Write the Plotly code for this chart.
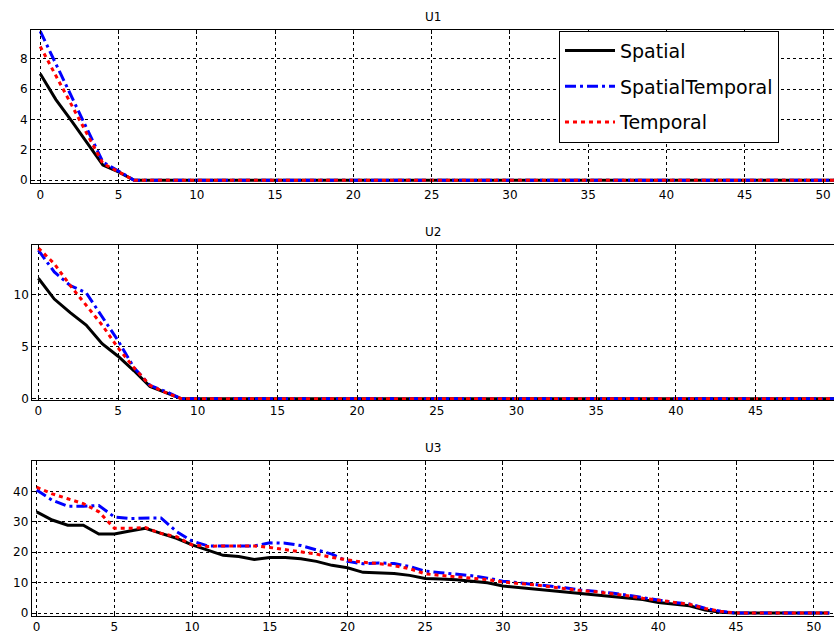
import plotly.graph_objects as go

steps = list(range(52))

u1_spatial = [7.0, 5.3, 3.9, 2.45, 1.0, 0.55, 0, 0, 0, 0, 0, 0, 0, 0, 0, 0, 0, 0, 0, 0, 0, 0, 0, 0, 0, 0,
              0, 0, 0, 0, 0, 0, 0, 0, 0, 0, 0, 0, 0, 0, 0, 0, 0, 0, 0, 0, 0, 0, 0, 0, 0, 0]
u1_spatemp = [9.8, 7.65, 5.5, 3.35, 1.2, 0.6, 0, 0, 0, 0, 0, 0, 0, 0, 0, 0, 0, 0, 0, 0, 0, 0, 0, 0, 0, 0,
              0, 0, 0, 0, 0, 0, 0, 0, 0, 0, 0, 0, 0, 0, 0, 0, 0, 0, 0, 0, 0, 0, 0, 0, 0, 0]
u1_temporal = [8.8, 6.9, 4.95, 3.0, 1.1, 0.55, 0, 0, 0, 0, 0, 0, 0, 0, 0, 0, 0, 0, 0, 0, 0, 0, 0, 0, 0, 0,
               0, 0, 0, 0, 0, 0, 0, 0, 0, 0, 0, 0, 0, 0, 0, 0, 0, 0, 0, 0, 0, 0, 0, 0, 0, 0]

u2_spatial = [11.6, 9.6, 8.3, 7.1, 5.3, 4.1, 2.7, 1.2, 0.6, 0, 0, 0, 0, 0, 0, 0, 0, 0, 0, 0, 0, 0, 0, 0, 0, 0,
              0, 0, 0, 0, 0, 0, 0, 0, 0, 0, 0, 0, 0, 0, 0, 0, 0, 0, 0, 0, 0, 0, 0, 0, 0, 0]
u2_spatemp = [14.3, 12.2, 10.9, 10.2, 7.9, 5.6, 3.0, 1.3, 0.7, 0, 0, 0, 0, 0, 0, 0, 0, 0, 0, 0, 0, 0, 0, 0, 0, 0,
              0, 0, 0, 0, 0, 0, 0, 0, 0, 0, 0, 0, 0, 0, 0, 0, 0, 0, 0, 0, 0, 0, 0, 0, 0, 0]
u2_temporal = [14.5, 13.0, 10.9, 9.0, 7.1, 4.9, 3.0, 1.3, 0.6, 0, 0, 0, 0, 0, 0, 0, 0, 0, 0, 0, 0, 0, 0, 0, 0, 0,
               0, 0, 0, 0, 0, 0, 0, 0, 0, 0, 0, 0, 0, 0, 0, 0, 0, 0, 0, 0, 0, 0, 0, 0, 0, 0]

u3_spatial = [33.3, 30.6, 28.9, 28.9, 26.0, 26.0, 27.0, 27.9, 26.2, 24.6, 22.4, 20.8, 19.0, 18.6, 17.6, 18.3,
              18.3, 17.9, 17.0, 15.7, 14.9, 13.4, 13.2, 13.0, 12.4, 11.4, 11.2, 11.0, 10.5, 10.0, 8.9, 8.4,
              8.0, 7.5, 6.9, 6.4, 6.0, 5.5, 5.0, 4.5, 3.5, 3.0, 2.4, 1.0, 0.3, 0, 0, 0, 0, 0, 0, 0]
u3_spatemp = [40.5, 37.1, 35.1, 35.1, 35.4, 31.6, 31.1, 31.1, 31.3, 26.8, 23.7, 22.1, 22.1, 21.9, 22.1, 23.1,
              23.0, 22.2, 20.8, 19.4, 17.0, 16.2, 16.5, 16.3, 15.3, 13.8, 13.3, 12.8, 12.3, 11.5, 10.5, 10.0,
              9.5, 9.0, 8.3, 7.6, 7.2, 6.6, 5.9, 5.0, 4.3, 3.5, 3.0, 1.6, 0.6, 0, 0, 0, 0, 0, 0, 0]
u3_temporal = [41.4, 39.2, 37.6, 36.0, 33.3, 27.9, 27.9, 28.1, 26.2, 25.1, 22.4, 21.9, 22.1, 22.1, 22.1, 21.6,
               20.8, 20.0, 19.4, 18.3, 17.6, 16.7, 16.3, 15.6, 14.6, 12.9, 12.4, 12.0, 11.5, 11.0, 10.2, 9.8,
               9.3, 8.7, 8.0, 7.4, 7.0, 6.4, 5.7, 4.9, 4.2, 3.4, 2.9, 1.5, 0.6, 0, 0, 0, 0, 0, 0, 0]

series_names = ["Spatial", "SpatialTemporal", "Temporal"]
panel_titles = ["U1", "U2", "U3"]
panels = [
    [u1_spatial, u1_spatemp, u1_temporal],
    [u2_spatial, u2_spatemp, u2_temporal],
    [u3_spatial, u3_spatemp, u3_temporal],
]

W, H = 834, 637
FONT = "DejaVu Sans"
styles = [
    dict(color="#000000", width=3, dash="solid"),
    dict(color="#0000ff", width=3, dash="11px,4px,3px,4px"),
    dict(color="#ff0000", width=3, dash="4px,4px"),
]

# pixel geometry of plot areas: (left, top, bottom), right = W
geom = [(31, 30, 185), (32.3, 247.3, 403.7), (31.7, 465.7, 621.7)]
xranges = [[-0.59, 50.7], [-0.38, 49.92], [-0.32, 51.3]]
yranges = [[-0.2, 9.9], [-0.1, 14.8], [-0.9, 49.9]]
ydticks = [2, 5, 10]

fig = go.Figure()
for p, data in enumerate(panels):
    ax = "" if p == 0 else str(p + 1)
    for s, vals in enumerate(data):
        fig.add_trace(go.Scatter(
            x=steps, y=vals, mode="lines", name=series_names[s],
            line=styles[s], xaxis="x" + ax, yaxis="y" + ax,
            legendgroup=series_names[s], showlegend=(p == 0),
        ))

layout = dict(
    width=W, height=H, margin=dict(l=0, r=0, t=0, b=0),
    paper_bgcolor="white", plot_bgcolor="white",
    font=dict(family=FONT, color="black", size=12),
    legend=dict(x=559 / W, y=1 - 31 / H, xanchor="left", yanchor="top",
                bgcolor="white", bordercolor="black", borderwidth=1,
                font=dict(family=FONT, size=19, color="black"),
                tracegroupgap=8, itemwidth=50),
    annotations=[],
)
for p in range(3):
    ax = "" if p == 0 else str(p + 1)
    left, top, bottom = geom[p]
    common = dict(showgrid=True, gridcolor="black", gridwidth=1, griddash="3px,3px",
                  showline=True, linecolor="black", linewidth=1,
                  ticks="inside", ticklen=4, tickcolor="black",
                  zeroline=False, tickfont=dict(family=FONT, size=12, color="black"))
    layout["xaxis" + ax] = dict(common, domain=[left / W, 1.0], range=xranges[p],
                                anchor="y" + ax, tick0=0, dtick=5, mirror="ticks")
    layout["yaxis" + ax] = dict(common, domain=[1 - bottom / H, 1 - top / H], range=yranges[p],
                                anchor="x" + ax, tick0=0, dtick=ydticks[p], mirror=False)
    layout["annotations"].append(dict(
        text=panel_titles[p], xref="paper", yref="paper",
        x=(left + W) / 2 / W, y=1 - (top - 13) / H, showarrow=False,
        xanchor="center", yanchor="middle", font=dict(family=FONT, size=12, color="black")))

fig.update_layout(**layout)
fig.write_html("out.html")
